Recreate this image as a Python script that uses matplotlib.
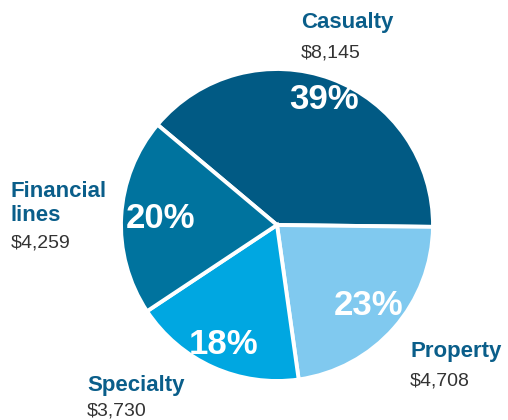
import numpy as np
import matplotlib.pyplot as plt

# ---- data ----
categories = ["Casualty", "Property", "Specialty", "Financial\nlines"]
values = [8145, 4708, 3730, 4259]
pct_labels = ["39%", "23%", "18%", "20%"]
value_labels = ["$8,145", "$4,708", "$3,730", "$4,259"]
colors = ["#015a84", "#80c9ef", "#00a7e1", "#00739e"]

plt.rcParams["font.family"] = ["Liberation Sans", "DejaVu Sans"]

W, H = 508, 420
fig = plt.figure(figsize=(W / 100, H / 100), dpi=100)
ax = fig.add_axes([0, 0, 1, 1])

# pie center / radius in pixels
cx, cy, R = 277, 225, 156

wedges, _ = ax.pie(values, colors=colors, startangle=140, counterclock=False,
                   radius=1, wedgeprops=dict(edgecolor="white", linewidth=2.8))

ax.set_xlim(-cx / R, (W - cx) / R)
ax.set_ylim(-(H - cy) / R, cy / R)
ax.set_aspect("equal")
ax.axis("off")

# percentage labels inside the wedges
label_r = [0.86, 0.78, 0.84, 0.75]
for w, txt, r in zip(wedges, pct_labels, label_r):
    ang = np.deg2rad((w.theta1 + w.theta2) / 2)
    ax.text(r * np.cos(ang), r * np.sin(ang), txt, color="white", fontsize=25,
            fontweight="bold", ha="center", va="center")

# outside category labels (pixel positions of the left / baseline)
name_pos = [(301, 28), (410, 357), (87, 391), (11, 221)]
val_pos = [(301, 57), (410, 385), (87, 415), (11, 247)]
for name, val, (nx, ny), (vx, vy) in zip(categories, value_labels, name_pos, val_pos):
    fig.text(nx / W, 1 - ny / H, name, color="#0a5e8a", fontsize=16,
             fontweight="bold", ha="left", va="baseline", linespacing=1.2)
    fig.text(vx / W, 1 - vy / H, val, color="#333333", fontsize=14,
             ha="left", va="baseline")

fig.savefig("out.png", dpi=100)
